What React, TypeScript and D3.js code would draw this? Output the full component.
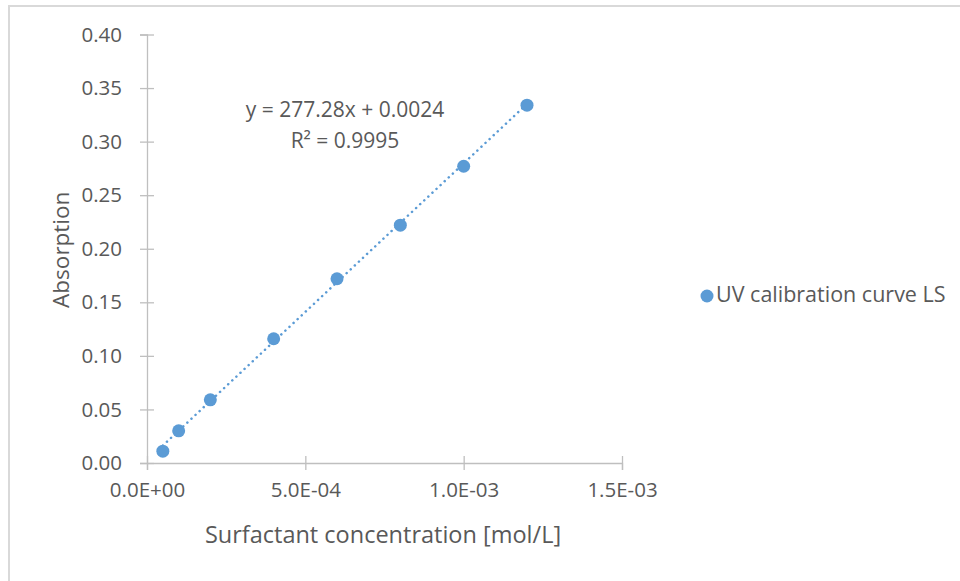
import React, { useEffect, useRef } from 'react';
import * as d3 from 'd3';

// concentration [mol/L] and absorption
const concentrations = [5e-5, 1e-4, 2e-4, 4e-4, 6e-4, 8e-4, 1e-3, 1.2e-3];
const absorptions = [0.011, 0.03, 0.059, 0.116, 0.172, 0.222, 0.277, 0.334];
const xTicks = [0, 5e-4, 1e-3, 1.5e-3];
const yTicks = [0, 0.05, 0.1, 0.15, 0.2, 0.25, 0.3, 0.35, 0.4];
const trendSlope = 277.28;
const trendIntercept = 0.0024;
const rSquared = 0.9995;
const seriesName = 'UV calibration curve LS';

const W = 960;
const H = 581;
const FONT = '"Open Sans", sans-serif';
const TEXT = '#595959';
const AXIS = '#bfbfbf';
const BLUE = '#5b9bd5';

function sci(v) {
  if (v === 0) return '0.0E+00';
  const e = Math.floor(Math.log10(Math.abs(v)) + 1e-9);
  const m = v / Math.pow(10, e);
  const sign = e < 0 ? '-' : '+';
  return m.toFixed(1) + 'E' + sign + String(Math.abs(e)).padStart(2, '0');
}

const App = () => {
  const svgRef = useRef(null);

  useEffect(() => {
    const svg = d3.select(svgRef.current);
    svg.selectAll('*').remove();

    const x = d3.scaleLinear().domain([0, 1.5e-3]).range([147, 622]);
    const y = d3.scaleLinear().domain([0, 0.4]).range([463, 34.5]);

    // chart frame (only top and left edges show)
    svg.append('line').attr('x1', 8).attr('x2', W).attr('y1', 6).attr('y2', 6)
      .attr('stroke', '#d9d9d9').attr('stroke-width', 2);
    svg.append('line').attr('x1', 9).attr('x2', 9).attr('y1', 6).attr('y2', H)
      .attr('stroke', '#d9d9d9').attr('stroke-width', 2);

    // y axis
    const gy = svg.append('g').attr('transform', `translate(${x(0)},0)`)
      .call(d3.axisLeft(y).tickValues(yTicks).tickFormat(d3.format('.2f')).tickSize(7).tickPadding(18));
    gy.selectAll('.tick line').attr('x1', -7).attr('x2', 7);

    // x axis
    const gx = svg.append('g').attr('transform', `translate(0,${y(0)})`)
      .call(d3.axisBottom(x).tickValues(xTicks).tickFormat(sci).tickSize(7).tickPadding(12));
    gx.selectAll('.tick line').attr('y1', -7).attr('y2', 7);

    [gx, gy].forEach(g => {
      g.select('.domain').attr('stroke', AXIS).attr('stroke-width', 1.3);
      g.selectAll('.tick line').attr('stroke', AXIS).attr('stroke-width', 1.3);
      g.selectAll('.tick text').attr('fill', TEXT).style('font-family', FONT).style('font-size', '20.5px');
    });

    // axis titles
    svg.append('text')
      .attr('transform', `translate(69,${y(0.2) + 1}) rotate(-90)`)
      .attr('text-anchor', 'middle')
      .attr('fill', TEXT).style('font-family', FONT).style('font-size', '22.5px')
      .text('Absorption');
    svg.append('text')
      .attr('x', 383).attr('y', 543)
      .attr('text-anchor', 'middle')
      .attr('fill', TEXT).style('font-family', FONT).style('font-size', '23.5px')
      .text('Surfactant concentration [mol/L]');

    // linear trendline
    const x0 = d3.min(concentrations);
    const x1 = d3.max(concentrations);
    svg.append('line')
      .attr('x1', x(x0)).attr('y1', y(trendSlope * x0 + trendIntercept))
      .attr('x2', x(x1)).attr('y2', y(trendSlope * x1 + trendIntercept))
      .attr('stroke', BLUE).attr('stroke-width', 2.5)
      .attr('stroke-linecap', 'round').attr('stroke-dasharray', '0.1 5.5');

    // points
    svg.append('g').selectAll('circle')
      .data(concentrations)
      .join('circle')
      .attr('cx', d => x(d))
      .attr('cy', (d, i) => y(absorptions[i]))
      .attr('r', 6.5)
      .attr('fill', BLUE);

    // trendline label
    const eq = svg.append('text').attr('text-anchor', 'middle')
      .attr('fill', TEXT).style('font-family', FONT).style('font-size', '21px');
    eq.append('tspan').attr('x', 345).attr('y', 117)
      .text(`y = ${trendSlope}x + ${trendIntercept}`);
    eq.append('tspan').attr('x', 345).attr('y', 148)
      .text(`R² = ${rSquared}`);

    // legend
    svg.append('circle').attr('cx', 707).attr('cy', 296).attr('r', 6.5).attr('fill', BLUE);
    svg.append('text').attr('x', 716).attr('y', 302)
      .attr('fill', TEXT).style('font-family', FONT).style('font-size', '21.5px')
      .text(seriesName);
  }, []);

  return (
    <svg ref={svgRef} width={W} height={H} viewBox={`0 0 ${W} ${H}`}
      style={{ position: 'absolute', left: 0, top: 0, background: '#fff' }} />
  );
};

export default App;
